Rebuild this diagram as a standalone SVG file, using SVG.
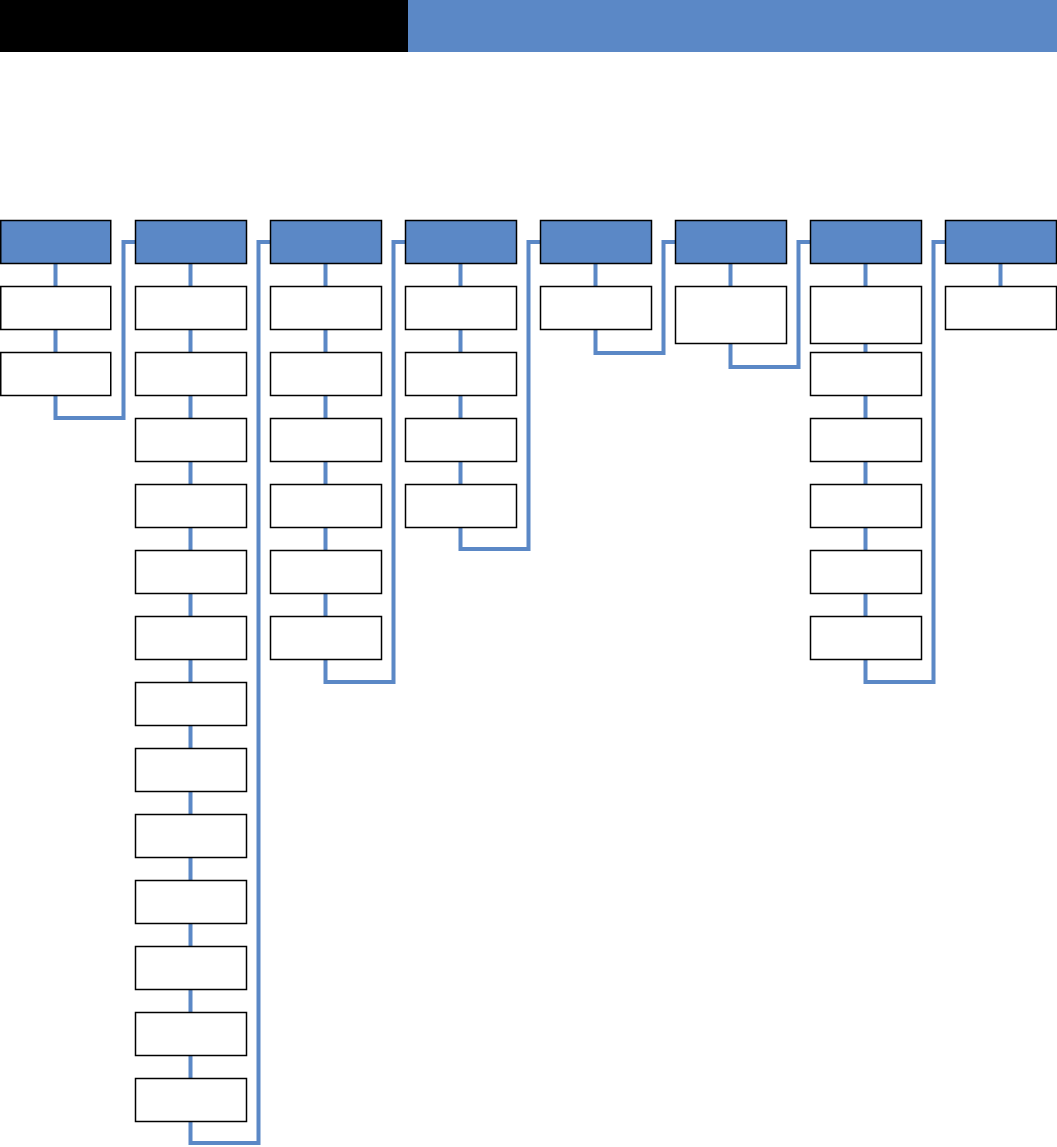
<svg xmlns="http://www.w3.org/2000/svg" width="1057" height="1147" viewBox="0 0 1057 1147">
<style>
.hdr{fill:#5B88C6;stroke:#000;stroke-width:1.5}
.box{fill:#fff;stroke:#000;stroke-width:1.5}
.con{fill:none;stroke:#5B88C6;stroke-width:4;stroke-linejoin:miter}
</style>
<rect x="0" y="0" width="408" height="52" fill="#000"/>
<rect x="408" y="0" width="649" height="52" fill="#5B88C6"/>
<g id="connectors">
<path class="con" d="M55.5 263V418H123.5V242H135"/>
<path class="con" d="M190.5 263V1143H258.5V242H270"/>
<path class="con" d="M325.5 263V682H393.5V242H405"/>
<path class="con" d="M460.5 263V549H528.5V242H540"/>
<path class="con" d="M595.5 263V353H663.5V242H675"/>
<path class="con" d="M730.5 263V367H798.5V242H810"/>
<path class="con" d="M865.5 263V682H933.5V242H945"/>
<path class="con" d="M1000.5 263V286"/>
</g>
<g id="col1">
<rect id="h1" class="hdr" x="0.75" y="220.5" width="110" height="43"/>
<rect id="n1a" class="box" x="0.75" y="286.5" width="110" height="43"/>
<rect id="n1b" class="box" x="0.75" y="352.5" width="110" height="43"/>
</g>
<g id="col2">
<rect id="h2" class="hdr" x="135.5" y="220.5" width="111" height="43"/>
<rect id="n2a" class="box" x="135.5" y="286.5" width="111" height="43"/>
<rect id="n2b" class="box" x="135.5" y="352.5" width="111" height="43"/>
<rect id="n2c" class="box" x="135.5" y="418.5" width="111" height="43"/>
<rect id="n2d" class="box" x="135.5" y="484.5" width="111" height="43"/>
<rect id="n2e" class="box" x="135.5" y="550.5" width="111" height="43"/>
<rect id="n2f" class="box" x="135.5" y="616.5" width="111" height="43"/>
<rect id="n2g" class="box" x="135.5" y="682.5" width="111" height="43"/>
<rect id="n2h" class="box" x="135.5" y="748.5" width="111" height="43"/>
<rect id="n2i" class="box" x="135.5" y="814.5" width="111" height="43"/>
<rect id="n2j" class="box" x="135.5" y="880.5" width="111" height="43"/>
<rect id="n2k" class="box" x="135.5" y="946.5" width="111" height="43"/>
<rect id="n2l" class="box" x="135.5" y="1012.5" width="111" height="43"/>
<rect id="n2m" class="box" x="135.5" y="1078.5" width="111" height="43"/>
</g>
<g id="col3">
<rect id="h3" class="hdr" x="270.5" y="220.5" width="111" height="43"/>
<rect id="n3a" class="box" x="270.5" y="286.5" width="111" height="43"/>
<rect id="n3b" class="box" x="270.5" y="352.5" width="111" height="43"/>
<rect id="n3c" class="box" x="270.5" y="418.5" width="111" height="43"/>
<rect id="n3d" class="box" x="270.5" y="484.5" width="111" height="43"/>
<rect id="n3e" class="box" x="270.5" y="550.5" width="111" height="43"/>
<rect id="n3f" class="box" x="270.5" y="616.5" width="111" height="43"/>
</g>
<g id="col4">
<rect id="h4" class="hdr" x="405.5" y="220.5" width="111" height="43"/>
<rect id="n4a" class="box" x="405.5" y="286.5" width="111" height="43"/>
<rect id="n4b" class="box" x="405.5" y="352.5" width="111" height="43"/>
<rect id="n4c" class="box" x="405.5" y="418.5" width="111" height="43"/>
<rect id="n4d" class="box" x="405.5" y="484.5" width="111" height="43"/>
</g>
<g id="col5">
<rect id="h5" class="hdr" x="540.5" y="220.5" width="111" height="43"/>
<rect id="n5a" class="box" x="540.5" y="286.5" width="111" height="43"/>
</g>
<g id="col6">
<rect id="h6" class="hdr" x="675.5" y="220.5" width="111" height="43"/>
<rect id="n6a" class="box" x="675.5" y="286.5" width="111" height="57"/>
</g>
<g id="col7">
<rect id="h7" class="hdr" x="810.5" y="220.5" width="111" height="43"/>
<rect id="n7a" class="box" x="810.5" y="286.5" width="111" height="57"/>
<rect id="n7b" class="box" x="810.5" y="352.5" width="111" height="43"/>
<rect id="n7c" class="box" x="810.5" y="418.5" width="111" height="43"/>
<rect id="n7d" class="box" x="810.5" y="484.5" width="111" height="43"/>
<rect id="n7e" class="box" x="810.5" y="550.5" width="111" height="43"/>
<rect id="n7f" class="box" x="810.5" y="616.5" width="111" height="43"/>
</g>
<g id="col8">
<rect id="h8" class="hdr" x="945.5" y="220.5" width="111" height="43"/>
<rect id="n8a" class="box" x="945.5" y="286.5" width="111" height="43"/>
</g>
</svg>
